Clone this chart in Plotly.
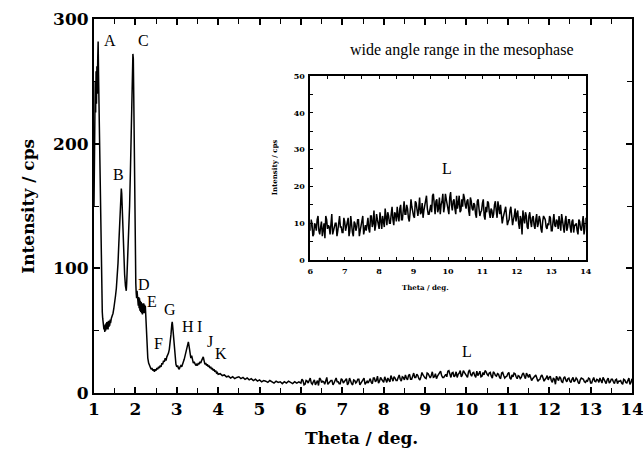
import numpy as np
import plotly.graph_objects as go

# ---- low-angle region (hand-read, non-uniform sampling) ----
theta_low = [1.00, 1.01, 1.02, 1.025, 1.03, 1.04, 1.05, 1.06, 1.07, 1.08, 1.09, 1.10, 1.11, 1.12, 1.13, 1.14,
             1.15, 1.16, 1.17, 1.18, 1.19, 1.20, 1.21, 1.22, 1.23, 1.24, 1.25, 1.26, 1.27, 1.28, 1.29, 1.30,
             1.31, 1.32, 1.33, 1.34, 1.35, 1.36, 1.37, 1.38, 1.39, 1.40, 1.42, 1.44, 1.46, 1.48, 1.50, 1.52,
             1.54, 1.56, 1.58, 1.60, 1.62, 1.64, 1.66, 1.67, 1.68, 1.70, 1.72, 1.74, 1.76, 1.78, 1.79, 1.80,
             1.82, 1.84, 1.86, 1.88, 1.90, 1.92, 1.94, 1.95, 1.96, 1.97, 1.98, 1.99, 2.00, 2.01, 2.02, 2.03,
             2.04, 2.05, 2.06, 2.07, 2.08, 2.09, 2.10, 2.11, 2.12, 2.13, 2.14, 2.15, 2.16, 2.17, 2.18, 2.19,
             2.20, 2.21, 2.22, 2.23, 2.24, 2.25, 2.26, 2.27, 2.28, 2.29, 2.30, 2.32, 2.34, 2.36, 2.38, 2.40,
             2.42, 2.44, 2.46, 2.48, 2.50, 2.52, 2.54, 2.56, 2.58, 2.60, 2.62, 2.64, 2.66, 2.68, 2.70, 2.72,
             2.74, 2.76, 2.78, 2.80, 2.82, 2.84, 2.86, 2.88, 2.89, 2.90, 2.92, 2.94, 2.96, 2.98, 3.00, 3.02,
             3.04, 3.06, 3.08, 3.10, 3.12, 3.14, 3.16, 3.18, 3.20, 3.22, 3.24, 3.26, 3.28, 3.30, 3.32, 3.34,
             3.36, 3.38, 3.40, 3.42, 3.44, 3.46, 3.48, 3.50, 3.52, 3.54, 3.56, 3.58, 3.60, 3.62, 3.64, 3.66,
             3.68, 3.70, 3.72, 3.74, 3.76, 3.78, 3.80, 3.82, 3.84, 3.86, 3.88, 3.90, 3.92, 3.94, 3.96, 3.98,
             4.00, 4.05, 4.10, 4.15, 4.20, 4.25, 4.30, 4.35, 4.40, 4.45]
int_low = [150, 205, 240, 200, 250, 225, 258, 232, 262, 240, 268, 282, 255, 232, 200, 170,
           140, 115, 95, 82, 72, 65, 60, 56, 53, 51, 54, 49, 55, 50, 56, 51,
           57, 52, 55, 51, 58, 53, 57, 54, 59, 56, 60, 62, 64, 68, 72, 78,
           84, 92, 104, 120, 138, 155, 164, 160, 148, 126, 108, 95, 86, 82, 88, 96,
           108, 125, 150, 178, 210, 245, 272, 268, 240, 200, 160, 125, 100, 88, 80, 76,
           82, 72, 79, 70, 77, 68, 76, 66, 74, 65, 73, 64, 72, 63, 70, 66,
           72, 64, 71, 67, 70, 62, 55, 46, 38, 32, 28, 24, 22, 21, 19, 20,
           18, 19, 17, 19, 18, 20, 19, 21, 20, 22, 21, 24, 23, 26, 25, 28,
           26, 29, 30, 32, 35, 40, 47, 55, 57, 54, 44, 34, 27, 23, 21, 22,
           20, 19, 21, 22, 21, 24, 25, 27, 30, 33, 37, 40, 41, 37, 32, 28,
           30, 26, 24, 25, 23, 22, 23, 22, 24, 23, 25, 24, 26, 27, 29, 26,
           23, 24, 22, 23, 21, 22, 20, 21, 19, 20, 18, 19, 17, 18, 16, 16.5,
           15, 15.5, 14, 14.5, 13, 13.5, 12, 13, 11.5, 12.5]

# ---- middle region 4.50 .. 5.95 (step 0.05) ----
theta_mid = np.round(np.arange(4.50, 5.951, 0.05), 3)
int_mid = [13, 11.5, 12.5, 11, 12, 10.5, 11.5, 10, 11, 9.5, 10.5, 9, 10, 9.5, 8.5,
           10, 9, 8, 9.5, 8.5, 9, 7.5, 9, 8, 9.5, 8.5, 7.5, 9, 8, 9]

# ---- wide-angle region 6.000 .. 14.000, read on a 0.05 grid ----
theta_wide_a = np.round(np.arange(6.00, 14.001, 0.05), 3)
int_wide_a = [8, 10, 7, 9.5, 11, 8, 9, 6.5, 10, 12, 8.5, 9, 11, 7, 9.5, 10, 8, 12, 9, 7.5,
              10.5, 9, 11.5, 8, 9, 6.5, 10, 9, 11, 8, 10.5, 7, 9.5,
              10, 8.5, 12, 9, 13.5, 9.5, 11, 8.5, 10.5, 12, 9, 11.5, 13, 10, 12.5, 11, 13, 10.5,
              12, 14, 11, 13.5, 12.5, 15, 11.5, 13, 14.5, 12, 16, 13, 14, 12.5, 15.5, 13.5, 16, 14, 12.5, 15,
              17.5, 14, 16, 13, 17, 15, 18, 14.5, 16.5, 13.5, 17, 15, 16, 14, 17.5, 15.5, 13, 16.5, 18, 15,
              16, 13.5, 17, 14, 15.5, 12.5, 16, 14, 13, 15.5, 12, 14.5, 16, 13, 14, 11.5, 15, 13.5, 16, 12.5,
              13, 11.5, 14, 12, 10.5, 13.5, 12, 11, 14, 12.5, 10, 12, 7, 11.5, 13, 9, 12, 10.5, 11.5, 9.5,
              11, 9, 12, 8.5, 10.5, 11.5, 9, 10, 12, 8, 10.5, 9.5, 11, 8.5, 10, 12.5, 9, 10.5, 8, 11,
              9, 10.5, 7.5, 9.5, 8, 11, 8.5, 10, 7, 11.5]
# ---- wide-angle region, in-between readings 6.025 .. 13.975 ----
theta_wide_b = np.round(np.arange(6.025, 13.9751, 0.05), 3)
int_wide_b = [11, 6.5, 10, 8, 12, 7, 10.5, 8.5, 6, 11, 9.5, 7, 12.5, 8, 10, 6.5, 11, 9, 7.5, 11.5,
              8, 10, 6.5, 12, 7.5, 10.5, 8, 11, 6.5, 9.5, 12, 8,
              8, 11.5, 7.5, 12, 10, 8, 12.5, 9.5, 13, 8.5, 10.5, 14, 9.5, 12, 10, 14.5, 9.5, 12.5,
              14.5, 10.5, 15, 11, 16, 12.5, 14, 10.5, 16.5, 13, 11.5, 15.5, 12, 17, 13, 11.5, 15, 17.5, 12.5, 14,
              13, 18, 12.5, 16.5, 14, 12.5, 16, 13, 18, 15, 12.5, 18.5, 13.5, 16.5, 12.5, 14, 17.5, 13.5, 14.5, 17,
              14, 16.5, 12, 16, 13.5, 15, 11.5, 16.5, 12, 13.5, 16.5, 11, 13, 15.5, 11.5, 13.5, 12.5, 16, 11.5, 14.5,
              15, 10, 12.5, 14.5, 9.5, 11, 14.5, 9.5, 12, 10.5, 13.5, 8.5, 11, 13.5, 10, 12, 8.5, 13, 9, 12,
              8.5, 12.5, 10, 11, 7.5, 12, 11, 8.5, 9.5, 11.5, 8, 12.5, 9, 10.5, 12, 8, 11, 7.5, 12, 9,
              11, 7.5, 11, 9.5, 10, 7, 10.5, 8, 12, 8.5]

peak_labels = ["A", "B", "C", "D", "E", "F", "G", "H", "I", "J", "K", "L"]
peak_label_theta = [1.39, 1.58, 2.19, 2.21, 2.40, 2.57, 2.84, 3.26, 3.56, 3.80, 4.08, 10.02]
peak_label_int = [283, 175, 283, 87, 73, 40, 67, 53, 53, 41, 32, 33]

# merge the two wide-angle reading grids in theta order
wide_pairs = sorted(zip(list(theta_wide_a) + list(theta_wide_b), int_wide_a + int_wide_b))
theta_wide = [p[0] for p in wide_pairs]
int_wide = [p[1] for p in wide_pairs]

theta_all = list(theta_low) + list(theta_mid) + theta_wide
int_all = list(int_low) + list(int_mid) + int_wide

fig = go.Figure()
fig.add_trace(go.Scatter(x=theta_all, y=int_all, mode="lines",
                         line=dict(color="black", width=1.5), showlegend=False,
                         xaxis="x", yaxis="y"))
fig.add_trace(go.Scatter(x=theta_wide, y=int_wide, mode="lines",
                         line=dict(color="black", width=1.5), showlegend=False,
                         xaxis="x2", yaxis="y2"))

tickfont_main = dict(family="DejaVu Serif", size=17, color="black", weight="bold")
tickfont_inset = dict(family="DejaVu Serif", size=8, color="black", weight="bold")

fig.update_layout(
    width=643, height=457,
    margin=dict(l=94, r=5, t=19, b=64),
    paper_bgcolor="white", plot_bgcolor="white",
    xaxis=dict(domain=[0, 1], range=[1, 14], dtick=1, tick0=0, automargin=False,
               ticklabeloverflow="allow",
               ticks="inside", ticklen=6, tickwidth=1.6, tickcolor="black",
               minor=dict(dtick=0.5, ticks="inside", ticklen=5, tickwidth=1.3, tickcolor="black"),
               showline=True, linecolor="black", linewidth=2, mirror="ticks",
               showgrid=False, zeroline=False, tickfont=tickfont_main),
    yaxis=dict(domain=[0, 1], range=[0, 300], dtick=100, automargin=False,
               ticklabeloverflow="allow",
               ticks="inside", ticklen=6, tickwidth=1.6, tickcolor="black",
               minor=dict(dtick=50, ticks="inside", ticklen=5, tickwidth=1.3, tickcolor="black"),
               showline=True, linecolor="black", linewidth=2, mirror="ticks",
               showgrid=False, zeroline=False, tickfont=tickfont_main),
    xaxis2=dict(domain=[0.402, 0.914], range=[6, 14], dtick=1, anchor="y2",
                ticks="inside", ticklen=3, tickwidth=1, tickcolor="black",
                minor=dict(dtick=0.5, ticks="inside", ticklen=3, tickwidth=1, tickcolor="black"),
                showline=True, linecolor="black", linewidth=1.5, mirror="ticks",
                showgrid=False, zeroline=False, tickfont=tickfont_inset, ticklabelstandoff=2),
    yaxis2=dict(domain=[0.355, 0.848], range=[0, 50], dtick=10, anchor="x2",
                ticks="inside", ticklen=3, tickwidth=1, tickcolor="black",
                minor=dict(dtick=5, ticks="inside", ticklen=3, tickwidth=1, tickcolor="black"),
                showline=True, linecolor="black", linewidth=1.5, mirror="ticks",
                showgrid=False, zeroline=False, tickfont=tickfont_inset, ticklabelstandoff=2),
)

ann = []
for lab, tx, ty in zip(peak_labels, peak_label_theta, peak_label_int):
    ann.append(dict(x=tx, y=ty, xref="x", yref="y", text=lab, showarrow=False,
                    font=dict(family="Liberation Serif", size=16, color="black")))
ann.append(dict(x=9.98, y=25, xref="x2", yref="y2", text="L", showarrow=False,
                font=dict(family="Liberation Serif", size=16, color="black")))
# axis titles
ann.append(dict(x=-0.123, y=0.5, xref="paper", yref="paper", text="Intensity / cps",
                textangle=-90, showarrow=False, xanchor="center", yanchor="middle",
                font=dict(family="DejaVu Serif", size=17, color="black", weight="bold")))
ann.append(dict(x=0.497, y=-0.121, xref="paper", yref="paper", text="Theta / deg.",
                showarrow=False, xanchor="center", yanchor="middle",
                font=dict(family="DejaVu Serif", size=17, color="black", weight="bold")))
# inset titles
ann.append(dict(x=0.683, y=0.917, xref="paper", yref="paper",
                text="wide angle range in the mesophase", showarrow=False,
                xanchor="center", yanchor="middle",
                font=dict(family="Liberation Serif", size=16, color="black")))
ann.append(dict(x=0.616, y=0.283, xref="paper", yref="paper", text="Theta / deg.",
                showarrow=False, xanchor="center", yanchor="middle",
                font=dict(family="DejaVu Serif", size=7, color="black", weight="bold")))
ann.append(dict(x=0.335, y=0.604, xref="paper", yref="paper", text="Intensity / cps",
                textangle=-90, showarrow=False, xanchor="center", yanchor="middle",
                font=dict(family="DejaVu Serif", size=7, color="black", weight="bold")))
fig.update_layout(annotations=ann)

fig.write_html("out.html")
